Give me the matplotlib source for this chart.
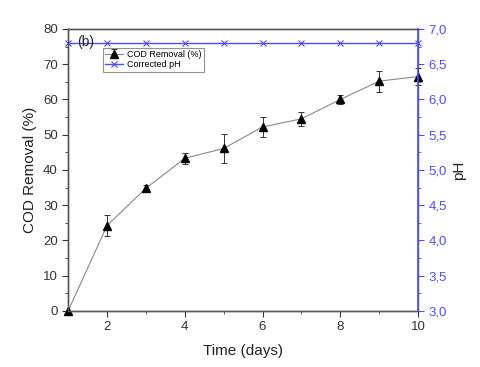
import matplotlib.pyplot as plt
import numpy as np
from matplotlib.ticker import MultipleLocator, FuncFormatter

plt.rcParams['font.family'] = ['Liberation Sans', 'DejaVu Sans']

days = [1, 2, 3, 4, 5, 6, 7, 8, 9, 10]
cod_removal = [0, 24.2, 34.8, 43.3, 46.1, 52.2, 54.5, 60.0, 65.2, 66.5]
cod_err = [0, 3.0, 0.8, 1.5, 4.0, 2.9, 2.0, 1.3, 3.0, 2.3]
ph_corrected = [6.8, 6.8, 6.8, 6.8, 6.8, 6.8, 6.8, 6.8, 6.8, 6.8]

blue = '#4d4dff'
gray = '#555555'

fig, ax = plt.subplots(figsize=(4.8, 3.67), dpi=100)
fig.subplots_adjust(left=0.142, right=0.871, top=0.921, bottom=0.153)
ax2 = ax.twinx()

l1 = ax.errorbar(days, cod_removal, yerr=cod_err, color='#888888', lw=0.8,
                 marker='^', ms=6, mfc='black', mec='black',
                 ecolor='#333333', elinewidth=0.7, capsize=2, capthick=0.7,
                 label='COD Removal (%)', clip_on=False, zorder=3)
l2, = ax2.plot(days, ph_corrected, color=blue, lw=1.0, marker='x', ms=5,
               mew=0.8, label='Corrected pH', clip_on=False)

ax.set_xlim(1, 10)
ax.set_ylim(0, 80)
ax2.set_ylim(3.0, 7.0)

ax.xaxis.set_major_locator(MultipleLocator(2))
ax.xaxis.set_minor_locator(MultipleLocator(1))
ax.yaxis.set_major_locator(MultipleLocator(10))
ax.yaxis.set_minor_locator(MultipleLocator(5))
ax2.yaxis.set_major_locator(MultipleLocator(0.5))
ax2.yaxis.set_minor_locator(MultipleLocator(0.25))
ax2.yaxis.set_major_formatter(FuncFormatter(lambda v, p: f'{v:.1f}'.replace('.', ',')))

for a in (ax, ax2):
    for s in a.spines.values():
        s.set_color(gray)
        s.set_linewidth(1.0)
ax2.spines['right'].set_color(blue)
ax2.spines['right'].set_linewidth(1.2)

ax.tick_params(axis='both', which='both', direction='out', colors='#333333',
               labelsize=9.5, top=False, right=False)
ax.tick_params(which='major', length=4)
ax.tick_params(which='minor', length=2)
ax2.tick_params(axis='y', which='both', colors=blue, labelsize=9.5)
ax2.tick_params(which='major', length=4)
ax2.tick_params(which='minor', length=2)

ax.set_xlabel('Time (days)', fontsize=11, color='#222222', labelpad=8)
ax.set_ylabel('COD Removal (%)', fontsize=11, color='#222222')
ax2.set_ylabel('pH', fontsize=11, color='#222222')

ax2.text(0.025, 0.955, '(b)', transform=ax.transAxes, fontsize=10,
         va='center', ha='left', color='#222222', zorder=5)

leg = ax2.legend([l1, l2], ['COD Removal (%)', 'Corrected pH'],
                 loc='upper left', bbox_to_anchor=(0.1, 0.933), fontsize=6.5,
                 frameon=True, fancybox=False, edgecolor='#777777',
                 handlelength=2.0, borderpad=0.25, labelspacing=0.15,
                 borderaxespad=0, handletextpad=0.4)
leg.get_frame().set_linewidth(0.8)

fig.savefig('out.png', dpi=100)
